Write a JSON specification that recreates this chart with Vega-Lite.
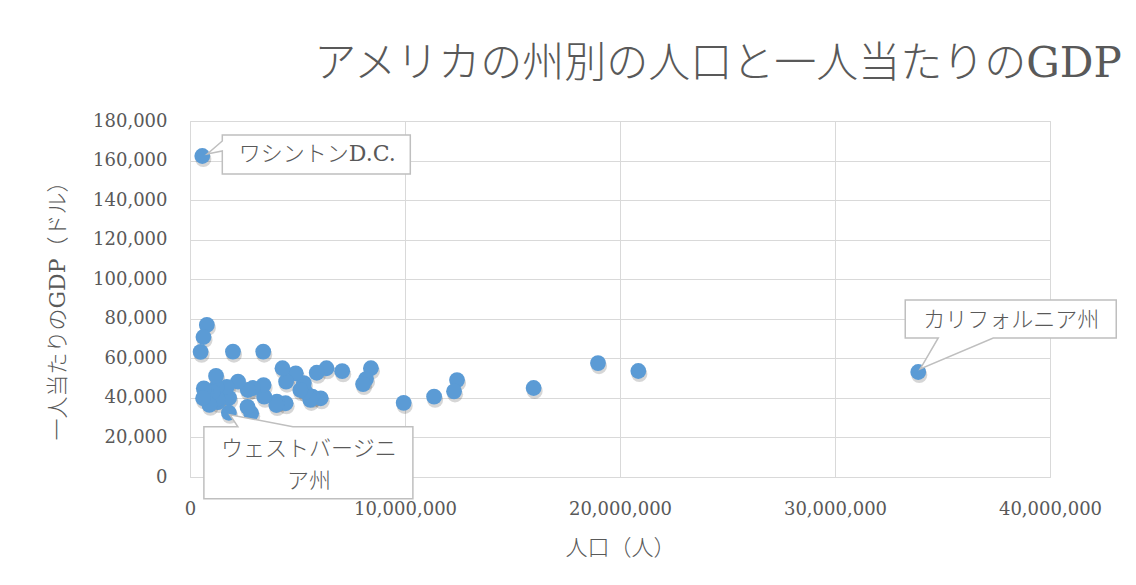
{
  "$schema": "https://vega.github.io/schema/vega-lite/v6.json",
  "width": 860,
  "height": 356,
  "autosize": {"type": "none"},
  "padding": {"left": 190, "top": 121, "right": 86, "bottom": 108},
  "background": "white",
  "title": {
    "text": "アメリカの州別の人口と一人当たりのGDP",
    "anchor": "middle",
    "frame": "group",
    "dx": 98,
    "dy": 4,
    "offset": 30,
    "font": "DejaVu Serif, Noto Sans CJK JP",
    "fontSize": 42,
    "fontWeight": 300,
    "color": "#595959"
  },
  "data": {
    "values": [
      {"state": "District of Columbia", "pop": 572059, "gdp": 162300, "label": "ワシントンD.C."},
      {"state": "California", "pop": 33871648, "gdp": 53100, "label": "カリフォルニア州"},
      {"state": "Texas", "pop": 20851820, "gdp": 53600, "label": null},
      {"state": "New York", "pop": 18976457, "gdp": 57600, "label": null},
      {"state": "Florida", "pop": 15982378, "gdp": 45000, "label": null},
      {"state": "Illinois", "pop": 12419293, "gdp": 49000, "label": null},
      {"state": "Pennsylvania", "pop": 12281054, "gdp": 43300, "label": null},
      {"state": "Ohio", "pop": 11353140, "gdp": 40600, "label": null},
      {"state": "Michigan", "pop": 9938444, "gdp": 37500, "label": null},
      {"state": "New Jersey", "pop": 8414350, "gdp": 55000, "label": null},
      {"state": "Georgia", "pop": 8186453, "gdp": 49500, "label": null},
      {"state": "North Carolina", "pop": 8049313, "gdp": 47000, "label": null},
      {"state": "Virginia", "pop": 7078515, "gdp": 53500, "label": null},
      {"state": "Massachusetts", "pop": 6349097, "gdp": 55000, "label": null},
      {"state": "Indiana", "pop": 6080485, "gdp": 39800, "label": null},
      {"state": "Washington", "pop": 5894121, "gdp": 52700, "label": null},
      {"state": "Tennessee", "pop": 5689283, "gdp": 40600, "label": null},
      {"state": "Missouri", "pop": 5595211, "gdp": 39000, "label": null},
      {"state": "Wisconsin", "pop": 5363675, "gdp": 43100, "label": null},
      {"state": "Maryland", "pop": 5296486, "gdp": 47500, "label": null},
      {"state": "Arizona", "pop": 5130632, "gdp": 44000, "label": null},
      {"state": "Minnesota", "pop": 4919479, "gdp": 52400, "label": null},
      {"state": "Louisiana", "pop": 4468976, "gdp": 48200, "label": null},
      {"state": "Alabama", "pop": 4447100, "gdp": 37300, "label": null},
      {"state": "Colorado", "pop": 4301261, "gdp": 55000, "label": null},
      {"state": "Kentucky", "pop": 4041769, "gdp": 38100, "label": null},
      {"state": "South Carolina", "pop": 4012012, "gdp": 36400, "label": null},
      {"state": "Oklahoma", "pop": 3450654, "gdp": 40600, "label": null},
      {"state": "Oregon", "pop": 3421399, "gdp": 46500, "label": null},
      {"state": "Connecticut", "pop": 3405565, "gdp": 63400, "label": null},
      {"state": "Iowa", "pop": 2926324, "gdp": 45000, "label": null},
      {"state": "Mississippi", "pop": 2844658, "gdp": 32200, "label": null},
      {"state": "Kansas", "pop": 2688418, "gdp": 44000, "label": null},
      {"state": "Arkansas", "pop": 2673400, "gdp": 35500, "label": null},
      {"state": "Utah", "pop": 2233169, "gdp": 48200, "label": null},
      {"state": "Nevada", "pop": 1998257, "gdp": 63400, "label": null},
      {"state": "New Mexico", "pop": 1819046, "gdp": 40000, "label": null},
      {"state": "West Virginia", "pop": 1808344, "gdp": 32500, "label": "ウェストバージニ\nア州"},
      {"state": "Nebraska", "pop": 1711263, "gdp": 45600, "label": null},
      {"state": "Idaho", "pop": 1293953, "gdp": 37900, "label": null},
      {"state": "Maine", "pop": 1274923, "gdp": 39500, "label": null},
      {"state": "New Hampshire", "pop": 1235786, "gdp": 45500, "label": null},
      {"state": "Hawaii", "pop": 1211537, "gdp": 51100, "label": null},
      {"state": "Rhode Island", "pop": 1048319, "gdp": 43000, "label": null},
      {"state": "Montana", "pop": 902195, "gdp": 36500, "label": null},
      {"state": "Delaware", "pop": 783600, "gdp": 76900, "label": null},
      {"state": "South Dakota", "pop": 754844, "gdp": 42500, "label": null},
      {"state": "North Dakota", "pop": 642200, "gdp": 44800, "label": null},
      {"state": "Alaska", "pop": 626932, "gdp": 70800, "label": null},
      {"state": "Vermont", "pop": 608827, "gdp": 39800, "label": null},
      {"state": "Wyoming", "pop": 493782, "gdp": 63300, "label": null}
    ]
  },
  "encoding": {
    "x": {
      "field": "pop",
      "type": "quantitative",
      "scale": {"domain": [0, 40000000], "nice": false, "zero": true},
      "axis": {
        "title": "人口（人）",
        "values": [0, 10000000, 20000000, 30000000, 40000000],
        "format": ",d",
        "titleX": 430,
        "titleY": 70,
        "titleAlign": "center",
        "titleBaseline": "middle"
      }
    },
    "y": {
      "field": "gdp",
      "type": "quantitative",
      "scale": {"domain": [0, 180000], "nice": false},
      "axis": {
        "title": "一人当たりのGDP（ドル）",
        "values": [0, 20000, 40000, 60000, 80000, 100000, 120000, 140000, 160000, 180000],
        "format": ",d",
        "titleAngle": 270,
        "titleX": -133,
        "titleY": 184,
        "titleAlign": "center",
        "titleBaseline": "middle"
      }
    }
  },
  "layer": [
    {
      "mark": {"type": "point", "shape": "circle", "filled": true, "size": 260, "color": "#000000", "opacity": 0.16, "xOffset": 1, "yOffset": 3}
    },
    {
      "mark": {"type": "point", "shape": "circle", "filled": true, "size": 250, "color": "#5B9BD5", "opacity": 1}
    },
    {
      "transform": [{"filter": "datum.state === 'District of Columbia'"}],
      "mark": {"type": "point", "shape": "M20,-21L208,-21L208,18L20,18L20,-5L5,-2L20,-15Z", "size": 4, "filled": true, "fill": "#ffffff", "stroke": "#bfbfbf", "strokeWidth": 1.5, "opacity": 1}
    },
    {
      "transform": [{"filter": "datum.state === 'District of Columbia'"}],
      "mark": {"type": "text", "dx": 115, "dy": -2, "align": "center", "baseline": "middle", "font": "DejaVu Serif, Noto Sans CJK JP", "fontSize": 22, "fontWeight": 300, "color": "#595959"},
      "encoding": {"text": {"field": "label"}}
    },
    {
      "transform": [{"filter": "datum.state === 'California'"}],
      "mark": {"type": "point", "shape": "M-13,-72L198,-72L198,-34L75,-34L2,-3L20,-34L-13,-34Z", "size": 4, "filled": true, "fill": "#ffffff", "stroke": "#bfbfbf", "strokeWidth": 1.5, "opacity": 1}
    },
    {
      "transform": [{"filter": "datum.state === 'California'"}],
      "mark": {"type": "text", "dx": 93, "dy": -52, "align": "center", "baseline": "middle", "font": "DejaVu Serif, Noto Sans CJK JP", "fontSize": 22, "fontWeight": 300, "color": "#595959"},
      "encoding": {"text": {"field": "label"}}
    },
    {
      "transform": [{"filter": "datum.state === 'West Virginia'"}],
      "mark": {"type": "point", "shape": "M-25,14L9,14L1,2L64,14L184,14L184,86L-25,86Z", "size": 4, "filled": true, "fill": "#ffffff", "stroke": "#bfbfbf", "strokeWidth": 1.5, "opacity": 1}
    },
    {
      "transform": [{"filter": "datum.state === 'West Virginia'"}],
      "mark": {"type": "text", "dx": 80, "dy": 36, "align": "center", "baseline": "middle", "lineBreak": "\n", "lineHeight": 32, "font": "DejaVu Serif, Noto Sans CJK JP", "fontSize": 22, "fontWeight": 300, "color": "#595959"},
      "encoding": {"text": {"field": "label"}}
    }
  ],
  "config": {
    "view": {"stroke": "#d9d9d9", "strokeWidth": 1},
    "axis": {
      "domain": false,
      "ticks": false,
      "tickSize": 0,
      "grid": true,
      "gridColor": "#d9d9d9",
      "gridWidth": 1,
      "labelFlush": false,
      "labelFont": "DejaVu Serif",
      "labelFontSize": 18,
      "labelColor": "#595959",
      "labelPadding": 23,
      "titleFont": "DejaVu Serif, Noto Sans CJK JP",
      "titleFontSize": 22,
      "titleFontWeight": 300,
      "titleColor": "#595959"
    },
    "axisX": {"labelBaseline": "top"},
    "axisY": {"labelAlign": "right", "labelBaseline": "middle"}
  }
}
